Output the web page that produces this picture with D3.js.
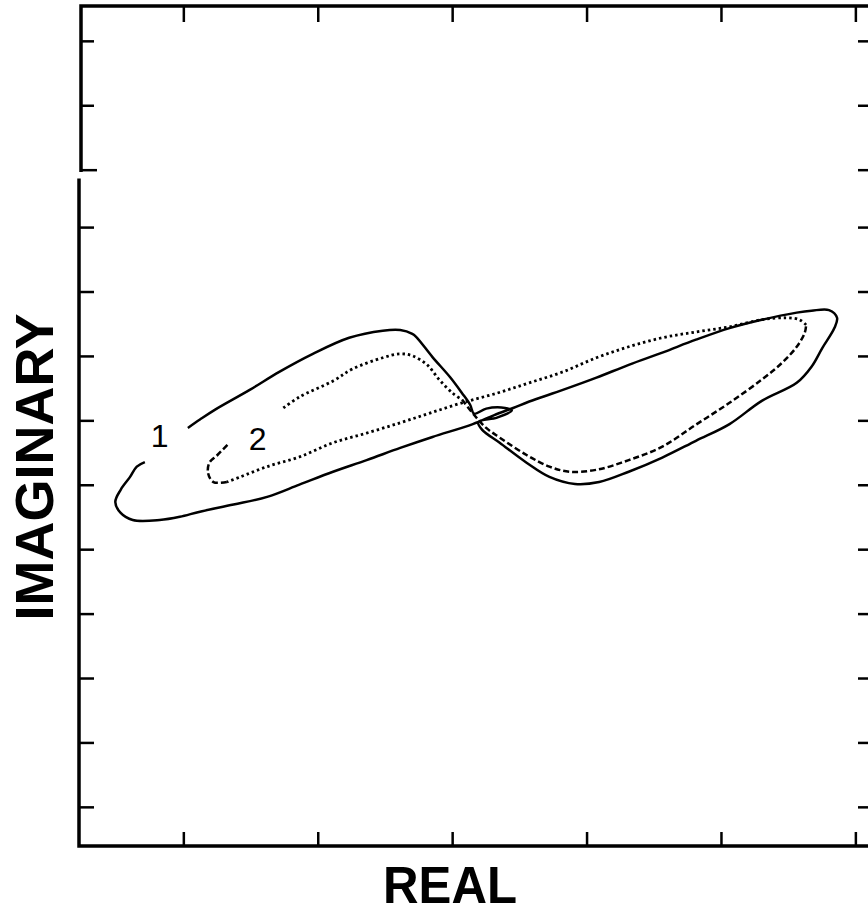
<!DOCTYPE html>
<meta charset="utf-8">
<head>
    <title>Real vs Imaginary loci</title>
</head>

<style>
	body {
	  margin: 0;
	  background: #fff;
	}

	.frame {
	  fill: none;
	  stroke: #000;
	  stroke-width: 3.5px;
	  stroke-linecap: square;
	}

	.tick {
	  stroke: #000;
	  stroke-width: 2.5px;
	}

	.curve {
	  fill: none;
	  stroke: #000;
	  stroke-width: 2.5px;
	  stroke-linejoin: round;
	}

	.dotted {
	  stroke-width: 2.8px;
	  stroke-dasharray: 2.5, 3;
	}

	.dashed {
	  stroke-dasharray: 6, 3;
	}

	.axisLabel {
	  font: bold 54px "Liberation Sans", Arial, sans-serif;
	  fill: #000;
	}

	.curveLabel {
	  font: 32px "Liberation Sans", Arial, sans-serif;
	  fill: #000;
	  text-anchor: middle;
	}
</style>
<body>
<script src="https://cdn.jsdelivr.net/npm/d3@7"></script>

<script>
// tick positions (units of one division)
var xTicks = [-2, -1, 0, 1, 2, 3];
var yTicks = [-6, -5, -4, -3, -2, -1, 0, 1, 2, 3, 4, 5, 6];

// curve 1 (solid)
var curve1Re = [-1.97, -1.88, -1.77, -1.51, -1.29, -1.04, -0.77, -0.52, -0.39, -0.30,
  -0.27, -0.15, -0.02, 0.07, 0.13, 0.16, 0.25, 0.39, 0.44, 0.33,
  0.19, 0.22, 0.35, 0.55, 0.72, 0.91, 1.09, 1.31, 1.56,
  1.81, 2.06, 2.30, 2.56, 2.67, 2.75, 2.84, 2.86, 2.80, 2.67,
  2.56, 2.30, 2.06, 1.81, 1.56, 1.31, 1.07, 0.82, 0.57, 0.45,
  0.31, 0.15, -0.15, -0.39, -0.64, -0.89, -1.14, -1.38, -1.63, -1.88,
  -2.03, -2.18, -2.38, -2.47, -2.51, -2.47, -2.40, -2.35, -2.29];
var curve1Im = [-0.11, 0.02, 0.17, 0.48, 0.76, 1.04, 1.29, 1.40, 1.41, 1.35,
  1.30, 0.99, 0.68, 0.43, 0.25, 0.11, 0.19, 0.20, 0.16, 0.05,
  -0.02, -0.14, -0.34, -0.65, -0.87, -0.98, -0.95, -0.79, -0.57,
  -0.31, -0.05, 0.31, 0.59, 0.84, 1.13, 1.44, 1.60, 1.72, 1.71,
  1.68, 1.57, 1.44, 1.26, 1.06, 0.87, 0.67, 0.48, 0.30, 0.20,
  0.09, -0.05, -0.25, -0.42, -0.61, -0.79, -0.99, -1.18, -1.30, -1.41,
  -1.49, -1.54, -1.54, -1.43, -1.26, -1.07, -0.87, -0.71, -0.64];

// curve 2 (dotted)
var curve2Re = [-1.26, -1.14, -0.89, -0.74, -0.52, -0.39, -0.30, -0.19, -0.10, 0.00,
  0.07, 0.16, 0.25, 0.35, 0.55, 0.72, 0.87, 1.07, 1.31, 1.56,
  1.81, 2.06, 2.30, 2.45, 2.56, 2.62, 2.63, 2.58, 2.48, 2.30,
  2.06, 1.81, 1.56, 1.31, 1.07, 0.82, 0.57, 0.33, 0.07, -0.17,
  -0.39, -0.64, -0.89, -1.14, -1.38, -1.58, -1.68, -1.78, -1.82, -1.81,
  -1.75, -1.67];
var curve2Im = [0.20, 0.37, 0.62, 0.81, 0.98, 1.04, 1.01, 0.87, 0.64, 0.43,
  0.33, 0.09, -0.11, -0.26, -0.53, -0.71, -0.79, -0.76, -0.61, -0.40,
  -0.06, 0.28, 0.64, 0.90, 1.15, 1.37, 1.49, 1.57, 1.60, 1.57,
  1.46, 1.38, 1.29, 1.15, 0.98, 0.76, 0.59, 0.43, 0.28, 0.12,
  -0.03, -0.19, -0.34, -0.56, -0.71, -0.87, -0.95, -0.95, -0.81, -0.65,
  -0.53, -0.36];

var labels = [{text: "1", re: -2.18, im: -0.40}, {text: "2", re: -1.45, im: -0.45}];

var width = 868, height = 915;
var plot = {left: 79, right: 872, top: 6, bottom: 846};

// setup scales
var xScale = d3.scaleLinear().domain([-2.78, 3.12]).range([plot.left, plot.right]);
var yScale = d3.scaleLinear().domain([-6.6, 6.44]).range([plot.bottom, plot.top]);

// the upper strip of the original paste-up sits a few px low
var yTick = function(v) { return yScale(v) + (v >= 4 ? 7 : 0); };

var svg = d3.select("body").append("svg")
    .attr("width", width)
    .attr("height", height);

// frame, with the small break in the left edge
var breakY = yTick(4);
svg.append("path")
    .attr("class", "frame")
    .attr("d", "M" + (plot.left + 2) + "," + breakY + "V" + plot.top + "H" + (plot.right));
svg.append("path")
    .attr("class", "frame")
    .attr("d", "M" + (plot.left) + "," + (breakY + 10) + "V" + plot.bottom + "H" + plot.right);

// x ticks, bottom and top
svg.selectAll(".xtickB")
  .data(xTicks)
  .enter().append("line")
    .attr("class", "tick")
    .attr("x1", xScale).attr("x2", xScale)
    .attr("y1", plot.bottom).attr("y2", plot.bottom - 14);

svg.selectAll(".xtickT")
  .data(xTicks)
  .enter().append("line")
    .attr("class", "tick")
    .attr("x1", xScale).attr("x2", xScale)
    .attr("y1", plot.top).attr("y2", plot.top + 16);

// y ticks, left and right
svg.selectAll(".ytickL")
  .data(yTicks)
  .enter().append("line")
    .attr("class", "tick")
    .attr("x1", function(d) { return plot.left + (d >= 4 ? 2 : 0); })
    .attr("x2", function(d) { return plot.left + (d == 4 ? 18 : 15); })
    .attr("y1", yTick).attr("y2", yTick);

svg.selectAll(".ytickR")
  .data(yTicks)
  .enter().append("line")
    .attr("class", "tick")
    .attr("x1", plot.right).attr("x2", plot.right - 14)
    .attr("y1", yTick).attr("y2", yTick);

// curves
var line = d3.line()
    .x(function(d) { return xScale(d[0]); })
    .y(function(d) { return yScale(d[1]); })
    .curve(d3.curveCatmullRom.alpha(0.5));

var pts1 = d3.zip(curve1Re, curve1Im);
var pts2 = d3.zip(curve2Re, curve2Im);

svg.append("path")
    .attr("class", "curve")
    .attr("d", line(pts1));

// curve 2: dotted, with dashed runs on the lower right lobe and the hook
var pieces = [[0, 11, "dotted"], [10, 27, "dashed"], [26, 47, "dotted"], [46, pts2.length, "dashed"]];
pieces.forEach(function(p) {
  svg.append("path")
      .attr("class", "curve " + p[2])
      .attr("d", line(pts2.slice(p[0], p[1])));
});

// curve labels
svg.selectAll(".curveLabel")
  .data(labels)
  .enter().append("text")
    .attr("class", "curveLabel")
    .attr("x", function(d) { return xScale(d.re); })
    .attr("y", function(d) { return yScale(d.im); })
    .text(function(d) { return d.text; });

// axis labels
svg.append("text")
    .attr("class", "axisLabel")
    .attr("text-anchor", "middle")
    .style("font-size", "51px")
    .attr("x", 450)
    .attr("y", 903)
    .attr("textLength", 134)
    .attr("lengthAdjust", "spacingAndGlyphs")
    .text("REAL");

svg.append("text")
    .attr("class", "axisLabel")
    .attr("text-anchor", "middle")
    .attr("transform", "translate(53,467) rotate(-90)")
    .text("IMAGINARY");
</script>
</body>
